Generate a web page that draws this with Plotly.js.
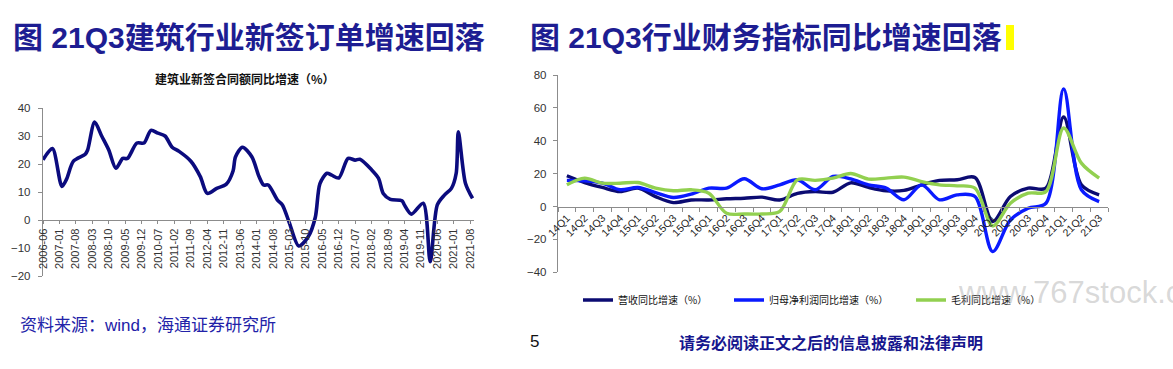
<!DOCTYPE html>
<html>
<head>
<meta charset="utf-8">
<script src="https://cdn.plot.ly/plotly-3.0.1.min.js"></script>
<style>
html,body{margin:0;padding:0;background:#fff;}
#chart{width:1173px;height:369px;}
</style>
</head>
<body>
<div id="chart"></div>
<script>
// ---------- Left chart data: 建筑业新签合同额同比增速（%）----------
const leftDates = ['2006-06','2006-10','2007-02','2007-04','2007-07','2007-12','2008-01','2008-04','2008-07','2008-10',
  '2009-01','2009-04','2009-06','2009-10','2010-01','2010-04','2010-07','2010-10','2011-01','2011-04',
  '2011-09','2012-01','2012-04','2012-08','2012-12','2013-03','2013-04','2013-07','2013-11','2014-02',
  '2014-04','2014-06','2014-10','2014-12','2015-03','2015-07','2015-11','2016-02','2016-04','2016-07',
  '2016-09','2016-12','2017-04','2017-07','2017-09','2018-02','2018-05','2018-07','2018-10','2019-03',
  '2019-04','2019-07','2019-12','2020-03','2020-06','2020-09','2020-12','2021-02','2021-03','2021-06','2021-09'];
const leftValues = [21.5,25.5,12,14.5,21,23.5,25,35,30,25,
  18.5,22,22,27.5,27.5,32,31,30,26,24.5,
  21,15.5,9.5,11.3,12.7,17.5,22.5,26,22.5,15.5,
  12.5,12.5,7,5.4,-1,-9.3,-6,1,13,16.7,
  16,15,22,21.4,21.7,17.9,14.9,9.5,7.4,6.9,
  5.4,2.1,6,-14.9,5.4,8.9,11.3,16.7,31.5,13.1,7.7];
const leftTickLabels = ['2006-06','2007-01','2007-08','2008-03','2008-10','2009-05','2009-12','2010-07','2011-02',
  '2011-09','2012-04','2012-11','2013-06','2014-01','2014-08','2015-03','2015-10','2016-05','2016-12',
  '2017-07','2018-02','2018-09','2019-04','2019-11','2020-06','2021-01','2021-08'];

// ---------- Right chart data ----------
const quarters = ['14Q1','14Q2','14Q3','14Q4','15Q1','15Q2','15Q3','15Q4','16Q1','16Q2','16Q3','16Q4',
  '17Q1','17Q2','17Q3','17Q4','18Q1','18Q2','18Q3','18Q4','19Q1','19Q2','19Q3','19Q4',
  '20Q1','20Q2','20Q3','20Q4','21Q1','21Q2','21Q3'];
const revenueGrowth = [18.7,14.6,11.6,9.1,11.2,6,2.4,4,4,4.7,5,5.7,
  4,8,9.1,8.7,14.4,11.6,9.6,9.8,13.2,15.9,16.3,17.7,
  -9.1,6.1,11.2,11.2,54.5,13.2,7.1];
const netProfitGrowth = [15.9,15.6,14.2,10.2,11.6,8.5,5.5,7.5,11.2,11.2,16.9,10.8,
  13.2,16.3,10.2,18.3,16.8,13.2,11.2,4.1,13.2,4.1,7.1,6.1,
  -27.4,-8.1,-1,2,71.5,10.2,3];
const grossProfitGrowth = [13.2,17.3,14.2,14.2,14.6,11.2,9.6,10.2,8.1,-4.1,-4.5,-4.5,
  -3,16.3,15.9,17.3,20.1,16.7,17.3,17.9,15.2,13.2,12.6,11.2,
  -11.8,2,8.1,9.1,47.8,26.4,17.3];
const seriesNames = ['营收同比增速（%）','归母净利润同比增速（%）','毛利同比增速（%）'];

// ---------- Page geometry helpers ----------
const W = 1173, H = 369;
const px = x => x / W;
const py = y => 1 - y / H;

const FONT = 'Liberation Sans, Arial, "Noto Sans CJK SC", sans-serif';
const CJK = '"Noto Sans CJK SC", "Liberation Sans", sans-serif';

const traces = [
  {x: leftDates.map(d => d + '-01'), y: leftValues, xaxis: 'x', yaxis: 'y', type: 'scatter', mode: 'lines',
   line: {color: '#0b0b7e', width: 3.6, shape: 'spline', smoothing: 0.8}, showlegend: false, hoverinfo: 'skip'},
  {x: quarters, y: revenueGrowth, xaxis: 'x2', yaxis: 'y2', type: 'scatter', mode: 'lines', name: seriesNames[0],
   line: {color: '#0b0b72', width: 3.4, shape: 'spline', smoothing: 0.9}, legend: 'legend'},
  {x: quarters, y: netProfitGrowth, xaxis: 'x2', yaxis: 'y2', type: 'scatter', mode: 'lines', name: seriesNames[1],
   line: {color: '#0a1aff', width: 3.4, shape: 'spline', smoothing: 0.9}, legend: 'legend2'},
  {x: quarters, y: grossProfitGrowth, xaxis: 'x2', yaxis: 'y2', type: 'scatter', mode: 'lines', name: seriesNames[2],
   line: {color: '#92d050', width: 3.4, shape: 'spline', smoothing: 0.9}, legend: 'legend3'}
];

const axisLine = '#8c8c8c';
const tickFont = {family: FONT, size: 11.5, color: '#333'};

const leftYDomain = [py(276), py(108)];
const rightYDomain = [py(272.3), py(75)];

const legendCommon = {orientation: 'h', xanchor: 'left', yanchor: 'middle', y: py(300),
  font: {family: CJK, size: 10, color: '#111'}, bgcolor: 'rgba(0,0,0,0)', borderwidth: 0, itemwidth: 30};

const layout = {
  width: W, height: H,
  margin: {l: 0, r: 0, t: 0, b: 0, pad: 0},
  paper_bgcolor: '#fff', plot_bgcolor: 'rgba(0,0,0,0)',
  showlegend: true,
  xaxis: {
    domain: [px(43), px(474)], type: 'date', range: ['2006-06-01', '2021-09-20'],
    anchor: 'free', position: py(220),
    tickmode: 'array', tickvals: leftTickLabels.map(d => d + '-01'), ticktext: leftTickLabels,
    tickangle: -90, tickfont: {family: FONT, size: 11, color: '#333'},
    ticks: 'outside', ticklen: 3, tickcolor: axisLine,
    showline: true, linecolor: axisLine, linewidth: 1.2, showgrid: false, zeroline: false, fixedrange: true
  },
  yaxis: {
    domain: leftYDomain, range: [-20, 40], dtick: 10, tick0: 0,
    anchor: 'x', side: 'left', tickfont: tickFont,
    ticks: 'outside', ticklen: 4, tickcolor: axisLine, ticklabelstandoff: 5,
    showline: true, linecolor: axisLine, linewidth: 1.2, showgrid: false, zeroline: false, fixedrange: true
  },
  xaxis2: {
    domain: [px(558), px(1108)], type: 'category', range: [-0.5, 30.5],
    anchor: 'free', position: py(206.7),
    tickangle: -45, tickfont: {family: FONT, size: 10.5, color: '#222'},
    ticks: 'outside', ticklen: 4, tickcolor: axisLine, tickson: 'boundaries',
    showline: true, linecolor: axisLine, linewidth: 1.2, showgrid: false, zeroline: false, fixedrange: true
  },
  yaxis2: {
    domain: rightYDomain, range: [-40, 80], dtick: 20, tick0: 0,
    anchor: 'x2', side: 'left', tickfont: tickFont,
    ticks: 'outside', ticklen: 4, tickcolor: axisLine, ticklabelstandoff: 4,
    showline: true, linecolor: axisLine, linewidth: 1.2, showgrid: false, zeroline: false, fixedrange: true
  },
  legend: Object.assign({}, legendCommon, {x: px(578)}),
  legend2: Object.assign({}, legendCommon, {x: px(729)}),
  legend3: Object.assign({}, legendCommon, {x: px(911)}),
  shapes: [
    {type: 'rect', xref: 'paper', yref: 'paper', x0: px(1006), x1: px(1014), y0: py(50), y1: py(25),
     fillcolor: '#ffff00', line: {width: 0}}
  ],
  annotations: [
    {text: '<b>图 21Q3建筑行业新签订单增速回落</b>', xref: 'paper', yref: 'paper', x: px(11), y: py(37),
     xanchor: 'left', yanchor: 'middle', showarrow: false, font: {family: FONT, size: 30, color: '#1d1d92'}},
    {text: '<b>图 21Q3行业财务指标同比增速回落</b>', xref: 'paper', yref: 'paper', x: px(528), y: py(37),
     xanchor: 'left', yanchor: 'middle', showarrow: false, font: {family: FONT, size: 30, color: '#1d1d92'}},
    {text: '<b>建筑业新签合同额同比增速（%）</b>', xref: 'paper', yref: 'paper', x: px(245), y: py(78),
     xanchor: 'center', yanchor: 'middle', showarrow: false, font: {family: CJK, size: 12, color: '#111'}},
    {text: '资料来源：wind，海通证券研究所', xref: 'paper', yref: 'paper', x: px(18), y: py(325),
     xanchor: 'left', yanchor: 'middle', showarrow: false, font: {family: FONT, size: 17, color: '#2222a8'}},
    {text: '5', xref: 'paper', yref: 'paper', x: px(528), y: py(341),
     xanchor: 'left', yanchor: 'middle', showarrow: false, font: {family: FONT, size: 17, color: '#111'}},
    {text: '<b>请务必阅读正文之后的信息披露和法律声明</b>', xref: 'paper', yref: 'paper', x: px(677), y: py(342),
     xanchor: 'left', yanchor: 'middle', showarrow: false, font: {family: CJK, size: 16, color: '#16168e'}},
    {text: 'www.767stock.com', xref: 'paper', yref: 'paper', x: px(956), y: py(292),
     xanchor: 'left', yanchor: 'middle', showarrow: false, font: {family: FONT, size: 31, color: 'rgba(170,170,170,0.45)'}}
  ]
};

Plotly.newPlot('chart', traces, layout, {staticPlot: true, displayModeBar: false});
</script>
</body>
</html>
